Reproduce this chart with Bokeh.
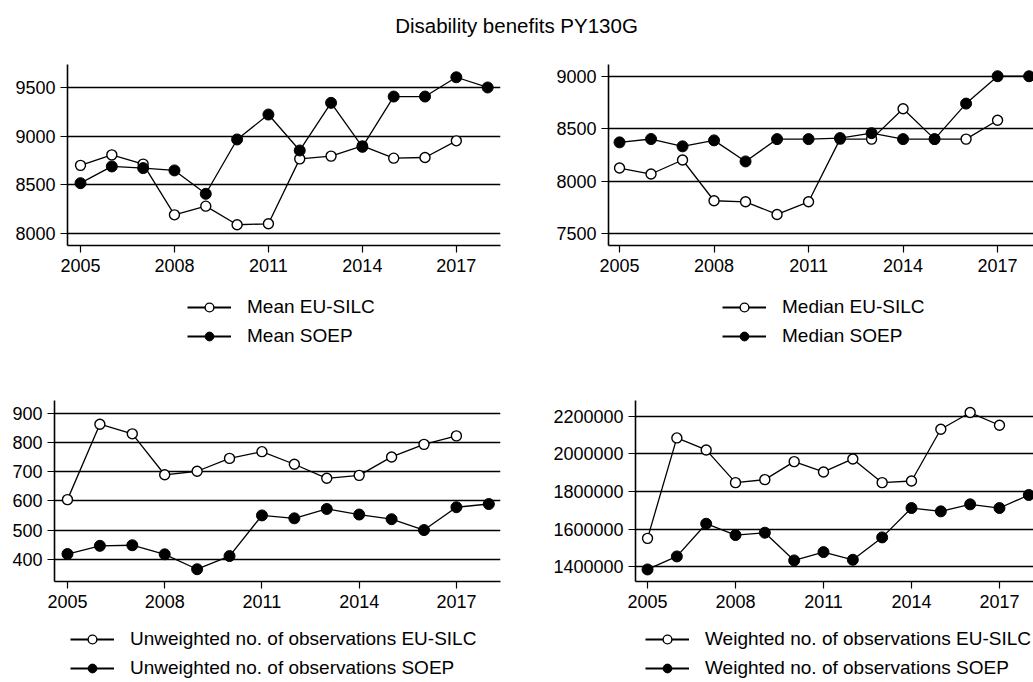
from bokeh.plotting import figure
from bokeh.models import FixedTicker, Range1d, Legend, LegendItem, Div
from bokeh.layouts import column, row
from bokeh.embed import file_html
from bokeh.resources import INLINE

# ---------------- data ----------------
years_soep = [2005, 2006, 2007, 2008, 2009, 2010, 2011, 2012, 2013, 2014, 2015, 2016, 2017, 2018]
years_eu = [2005, 2006, 2007, 2008, 2009, 2010, 2011, 2012, 2013, 2014, 2015, 2016, 2017]

mean_eusilc = [8700, 8808, 8713, 8192, 8281, 8090, 8100, 8767, 8795, 8900, 8774, 8781, 8952]
mean_soep = [8517, 8689, 8672, 8648, 8408, 8966, 9222, 8853, 9342, 8890, 9407, 9407, 9605, 9500]

median_eusilc = [8124, 8067, 8201, 7812, 7802, 7681, 7802, 8400, 8400, 8690, 8400, 8400, 8580]
median_soep = [8369, 8401, 8331, 8388, 8187, 8400, 8400, 8410, 8457, 8400, 8400, 8739, 9000, 9000]

unw_eusilc = [604, 862, 829, 689, 701, 745, 768, 725, 677, 687, 750, 793, 822]
unw_soep = [418, 446, 448, 417, 366, 411, 550, 540, 572, 553, 537, 500, 578, 589]

w_eusilc = [1551000, 2084700, 2020850, 1847000, 1863000, 1958800, 1903800, 1973000,
            1847000, 1855900, 2130800, 2219500, 2152100]
w_soep = [1385800, 1455000, 1628800, 1568500, 1581000, 1433800, 1478000, 1437300,
          1556100, 1712200, 1694500, 1731700, 1712200, 1781400]

x_ticks = [2005, 2008, 2011, 2014, 2017]
title_text = "Disability benefits PY130G"

FONT = "Liberation Sans"


def panel(width, height, xr, yr, yticks, eu, soep, mb_left, mb_right, mb_top, mb_bottom):
    p = figure(width=width, height=height, x_range=Range1d(*xr), y_range=Range1d(*yr),
               output_backend="svg", toolbar_location=None,
               min_border_left=mb_left, min_border_right=mb_right,
               min_border_top=mb_top, min_border_bottom=mb_bottom)
    p.outline_line_color = None
    p.background_fill_color = "white"
    p.border_fill_color = "white"

    p.xaxis.ticker = FixedTicker(ticks=x_ticks)
    p.yaxis.ticker = FixedTicker(ticks=yticks)
    for ax in (p.xaxis[0], p.yaxis[0]):
        ax.axis_line_color = "black"
        ax.axis_line_width = 1.6
        ax.major_tick_line_color = "black"
        ax.major_tick_line_width = 1.2
        ax.major_tick_out = 7
        ax.major_tick_in = 0
        ax.minor_tick_line_color = None
        ax.major_label_text_font = FONT
        ax.major_label_text_font_size = "18px"
        ax.major_label_text_color = "black"
    p.xaxis.major_label_standoff = 6
    p.yaxis.major_label_standoff = 5
    p.yaxis.formatter.use_scientific = False

    p.xgrid.visible = False
    p.ygrid.grid_line_color = "black"
    p.ygrid.grid_line_width = 1.4

    p.line(years_eu, eu, line_color="black", line_width=1.3)
    p.scatter(years_eu, eu, marker="circle", size=10, fill_color="white",
              line_color="black", line_width=1.4)
    p.line(years_soep, soep, line_color="black", line_width=1.3)
    p.scatter(years_soep, soep, marker="circle", size=11, fill_color="black",
              line_color="black", line_width=1)
    return p


def legend_fig(width, height, labels, loc, eu, soep):
    # key figure: legend proxies use the first value of each series, which lies
    # outside this figure's unit ranges, so only the legend entries are visible
    q = figure(width=width, height=height, x_range=Range1d(0, 1), y_range=Range1d(0, 1),
               output_backend="svg", toolbar_location=None,
               x_axis_type=None, y_axis_type=None,
               min_border_left=0, min_border_right=0, min_border_top=0, min_border_bottom=0)
    q.outline_line_color = None
    q.xgrid.visible = False
    q.ygrid.visible = False
    q.border_fill_color = "white"
    l1 = q.line(years_eu[:1], eu[:1], line_color="black", line_width=2.2)
    s1 = q.scatter(years_eu[:1], eu[:1], marker="circle", fill_color="white",
                   line_color="black", line_width=1.4)
    l2 = q.line(years_soep[:1], soep[:1], line_color="black", line_width=2.2)
    s2 = q.scatter(years_soep[:1], soep[:1], marker="circle", fill_color="black",
                   line_color="black", line_width=1)
    legend = Legend(items=[LegendItem(label=labels[0], renderers=[l1, s1]),
                           LegendItem(label=labels[1], renderers=[l2, s2])],
                    location=loc, orientation="vertical",
                    border_line_color=None, background_fill_alpha=0,
                    glyph_width=44, glyph_height=22, label_height=22,
                    label_standoff=16, spacing=7, padding=0, margin=0,
                    label_text_font=FONT, label_text_font_size="19px",
                    label_text_color="black")
    q.add_layout(legend)
    return q


tl = panel(548, 240, (2004.585, 2018.41), (7877, 9736), [8000, 8500, 9000, 9500],
           mean_eusilc, mean_soep, 67, 48, 19, 40)
tr = panel(485, 240, (2004.65, 2018.14), (7385, 9112), [7500, 8000, 8500, 9000],
           median_eusilc, median_soep, 60, 0, 19, 40)
bl = panel(548, 245, (2004.6, 2018.36), (324, 943), [400, 500, 600, 700, 800, 900],
           unw_eusilc, unw_soep, 54, 48, 25, 39)
br = panel(485, 245, (2004.59, 2018.16), (1321800, 2283500),
           [1400000, 1600000, 1800000, 2000000, 2200000],
           w_eusilc, w_soep, 87, 0, 25, 39)

tl_key = legend_fig(548, 90, ["Mean EU-SILC", "Mean SOEP"], (187, 28),
                    mean_eusilc, mean_soep)
tr_key = legend_fig(485, 90, ["Median EU-SILC", "Median SOEP"], (174, 28),
                    median_eusilc, median_soep)
bl_key = legend_fig(548, 61, ["Unweighted no. of observations EU-SILC",
                              "Unweighted no. of observations SOEP"], (70, 2),
                    unw_eusilc, unw_soep)
br_key = legend_fig(485, 61, ["Weighted no. of observations EU-SILC",
                              "Weighted no. of observations SOEP"], (97, 2),
                    w_eusilc, w_soep)

title = Div(text=('<div style="font-family:\'Liberation Sans\',Arial,sans-serif;'
                  'font-size:20.5px;color:black;text-align:center;width:1028px;'
                  'padding-left:5px;padding-top:11px;">' + title_text + '</div>'),
            width=1033, height=45, margin=0)

layout = column(title,
                row(tl, tr, spacing=0), row(tl_key, tr_key, spacing=0),
                row(bl, br, spacing=0), row(bl_key, br_key, spacing=0),
                spacing=0)

open("out.html", "w").write(file_html(layout, INLINE))
